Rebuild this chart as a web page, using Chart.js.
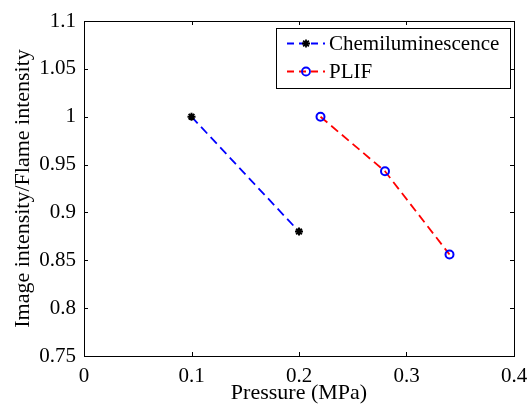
<!DOCTYPE html>
<html><head><meta charset="utf-8">
<script src="https://cdn.jsdelivr.net/npm/chart.js@4"></script>
<style>html,body{margin:0;padding:0;background:#fff;}canvas{display:block;}</style>
</head><body>
<canvas id="c" width="529" height="407"></canvas>
<script>
const chemiX = [0.1, 0.2];
const chemiY = [1.0, 0.88];
const plifX = [0.22, 0.28, 0.34];
const plifY = [1.0, 0.943, 0.856];
const xTicks = [0, 0.1, 0.2, 0.3, 0.4];
const yTicks = [0.75, 0.8, 0.85, 0.9, 0.95, 1, 1.05, 1.1];
const seriesNames = ['Chemiluminescence', 'PLIF'];

const FONT = '"Liberation Serif", "Times New Roman", serif';
Chart.defaults.font.family = FONT;

const framePlugin = {
  id: 'frame',
  afterDatasetsDraw(chart) {
    const {ctx, chartArea: a, scales: {x, y}} = chart;
    ctx.save();
    ctx.strokeStyle = '#000';
    ctx.lineWidth = 1;
    ctx.strokeRect(Math.round(a.left) + 0.5, Math.round(a.top) + 0.5, Math.round(a.right - a.left), Math.round(a.bottom - a.top));
    const L = 4;
    ctx.beginPath();
    xTicks.forEach(v => {
      const px = Math.round(x.getPixelForValue(v)) + 0.5;
      ctx.moveTo(px, a.bottom); ctx.lineTo(px, a.bottom - L);
      ctx.moveTo(px, a.top); ctx.lineTo(px, a.top + L);
    });
    yTicks.forEach(v => {
      const py = Math.round(y.getPixelForValue(v)) + 0.5;
      ctx.moveTo(a.left, py); ctx.lineTo(a.left + L, py);
      ctx.moveTo(a.right, py); ctx.lineTo(a.right - L, py);
    });
    ctx.stroke();
    ctx.restore();
  },
  afterDraw(chart) {
    const ctx = chart.ctx;
    const bx = 276.5, by = 28.5, bw = 234, bh = 60;
    ctx.save();
    ctx.fillStyle = '#fff';
    ctx.fillRect(bx, by, bw, bh);
    ctx.strokeStyle = '#000';
    ctx.lineWidth = 1;
    ctx.strokeRect(bx, by, bw, bh);
    const rows = [by + 15, by + 43];
    chart.data.datasets.forEach((ds, i) => {
      const ry = rows[i];
      ctx.strokeStyle = ds.borderColor;
      ctx.lineWidth = ds.borderWidth;
      ctx.setLineDash([7, 5]);
      ctx.beginPath();
      ctx.moveTo(287, ry); ctx.lineTo(325, ry);
      ctx.stroke();
      ctx.setLineDash([]);
      ctx.strokeStyle = ds.pointBorderColor;
      ctx.fillStyle = ds.pointBackgroundColor;
      Chart.helpers.drawPoint(ctx, {
        pointStyle: ds.pointStyle, radius: ds.pointRadius, borderWidth: ds.pointBorderWidth, rotation: 0
      }, 306, ry);
      ctx.fillStyle = '#000';
      ctx.font = '21px ' + FONT;
      ctx.textBaseline = 'middle';
      ctx.textAlign = 'left';
      ctx.fillText(ds.label, 329, ry + 1);
    });
    ctx.restore();
  }
};

new Chart(document.getElementById('c'), {
  type: 'scatter',
  data: {
    datasets: [
      {
        label: seriesNames[0],
        data: chemiX.map((v, i) => ({x: v, y: chemiY[i]})),
        showLine: true,
        borderColor: '#0000ff',
        borderWidth: 1.8,
        borderDash: [9, 5],
        pointStyle: 'star',
        pointRadius: 4,
        pointBorderWidth: 2,
        pointBorderColor: '#000',
        pointBackgroundColor: '#000'
      },
      {
        label: seriesNames[1],
        data: plifX.map((v, i) => ({x: v, y: plifY[i]})),
        showLine: true,
        borderColor: '#ff0000',
        borderWidth: 1.8,
        borderDash: [9, 5],
        pointStyle: 'circle',
        pointRadius: 4,
        pointBorderWidth: 2,
        pointBorderColor: '#0000ff',
        pointBackgroundColor: 'rgba(0,0,0,0)'
      }
    ]
  },
  options: {
    responsive: false,
    animation: false,
    layout: {padding: {top: 21, right: 15, left: 0, bottom: 0}},
    plugins: {legend: {display: false}, tooltip: {enabled: false}},
    scales: {
      x: {
        type: 'linear', min: 0, max: 0.4,
        afterBuildTicks: s => { s.ticks = xTicks.map(v => ({value: v})); },
        afterFit: s => { s.height = 51; s.paddingRight = 0; s.paddingLeft = 0; },
        grid: {display: false, drawTicks: false},
        border: {display: false},
        ticks: {color: '#000', font: {family: FONT, size: 21}, padding: 8, maxRotation: 0,
                callback: v => String(v)},
        title: {display: true, text: 'Pressure (MPa)', color: '#000', font: {family: FONT, size: 22}, padding: {top: 0, bottom: 1}}
      },
      y: {
        type: 'linear', min: 0.75, max: 1.1,
        afterBuildTicks: s => { s.ticks = yTicks.map(v => ({value: v})); },
        afterFit: s => { s.width = 84; s.paddingTop = 0; s.paddingBottom = 0; },
        grid: {display: false, drawTicks: false},
        border: {display: false},
        ticks: {color: '#000', font: {family: FONT, size: 21}, padding: 8,
                callback: v => String(v)},
        title: {display: true, text: 'Image intensity/Flame intensity', color: '#000', font: {family: FONT, size: 22}, padding: {top: 10, bottom: 0}}
      }
    }
  },
  plugins: [framePlugin]
});
</script>
</body></html>
